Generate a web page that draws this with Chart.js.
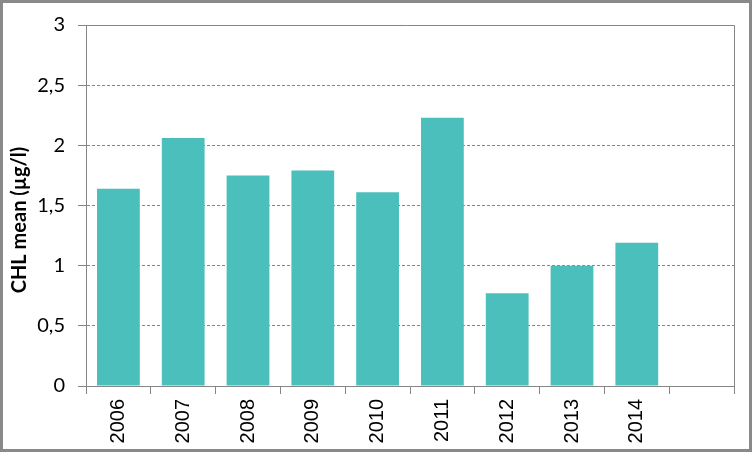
<!DOCTYPE html>
<html>
<head>
<meta charset="utf-8">
<script src="https://cdn.jsdelivr.net/npm/chart.js@4"></script>
<style>
html,body{margin:0;padding:0;background:#fff;}
#wrap{position:relative;width:752px;height:452px;}
canvas{display:block;}
</style>
</head>
<body>
<div id="wrap"><canvas id="c" width="752" height="452"></canvas></div>
<script>
const years = ['2006','2007','2008','2009','2010','2011','2012','2013','2014',''];
const chlMean = [1.64, 2.06, 1.75, 1.79, 1.61, 2.23, 0.77, 1.00, 1.19, null];
const yTicks = [0, 0.5, 1, 1.5, 2, 2.5, 3];
const yTitle = 'CHL mean (µg/l)';

const frame = {
  id: 'frame',
  beforeDraw(chart) {
    const ctx = chart.ctx;
    ctx.save();
    ctx.fillStyle = '#fff';
    ctx.fillRect(0, 0, chart.width, chart.height);
    ctx.restore();
  },
  afterDraw(chart) {
    const ctx = chart.ctx;
    const a = chart.chartArea;
    const y = chart.scales.y;
    ctx.save();
    ctx.strokeStyle = '#868686';
    ctx.lineWidth = 1;
    ctx.beginPath();
    const top = Math.round(y.getPixelForValue(3)) + 0.5;
    ctx.moveTo(a.left - 8, top);
    ctx.lineTo(Math.round(a.right) + 0.5, top);
    ctx.lineTo(Math.round(a.right) + 0.5, a.bottom);
    ctx.stroke();
    // outer border
    ctx.strokeStyle = '#898989';
    ctx.lineWidth = 3;
    ctx.strokeRect(1.5, 1.5, chart.width - 3, chart.height - 3);
    // y title
    ctx.fillStyle = '#000';
    ctx.font = 'bold 20px Lato, "Open Sans", sans-serif';
    ctx.textAlign = 'center';
    ctx.textBaseline = 'middle';
    ctx.translate(20, 220);
    ctx.rotate(-Math.PI / 2);
    ctx.fillText(yTitle, 0, 0);
    ctx.restore();
  }
};

new Chart(document.getElementById('c'), {
  type: 'bar',
  data: {
    labels: years,
    datasets: [{
      data: chlMean,
      backgroundColor: '#4BBFBC',
      borderWidth: 0,
      barPercentage: 0.66,
      categoryPercentage: 1.0
    }]
  },
  options: {
    responsive: false,
    animation: false,
    devicePixelRatio: 1,
    layout: { padding: { top: 24, right: 18, bottom: 0, left: 0 } },
    plugins: { legend: { display: false }, tooltip: { enabled: false } },
    scales: {
      x: {
        offset: true,
        grid: {
          offset: true,
          drawOnChartArea: false,
          drawTicks: true,
          tickLength: 8,
          color: '#868686',
          tickColor: '#868686'
        },
        border: { display: true, color: '#868686' },
        ticks: {
          minRotation: 90,
          maxRotation: 90,
          autoSkip: false,
          padding: 5,
          color: '#000',
          font: { family: '"Liberation Sans", Arial, sans-serif', size: 20 }
        },
        afterFit(scale) { scale.height = 66; }
      },
      y: {
        min: 0,
        max: 3,
        afterBuildTicks(scale) { scale.ticks = yTicks.map(v => ({ value: v })); },
        grid: {
          color: '#868686',
          tickColor: '#868686',
          tickLength: 8,
          tickBorderDash: [],
          drawTicks: true
        },
        border: { display: true, color: '#868686', dash: [3, 2] },
        ticks: {
          padding: 13,
          color: '#000',
          font: { family: 'Lato, "Open Sans", sans-serif', size: 20 },
          callback: v => String(v).replace('.', ',')
        },
        afterFit(scale) { scale.width = 86; }
      }
    }
  },
  plugins: [frame]
});
</script>
</body>
</html>
